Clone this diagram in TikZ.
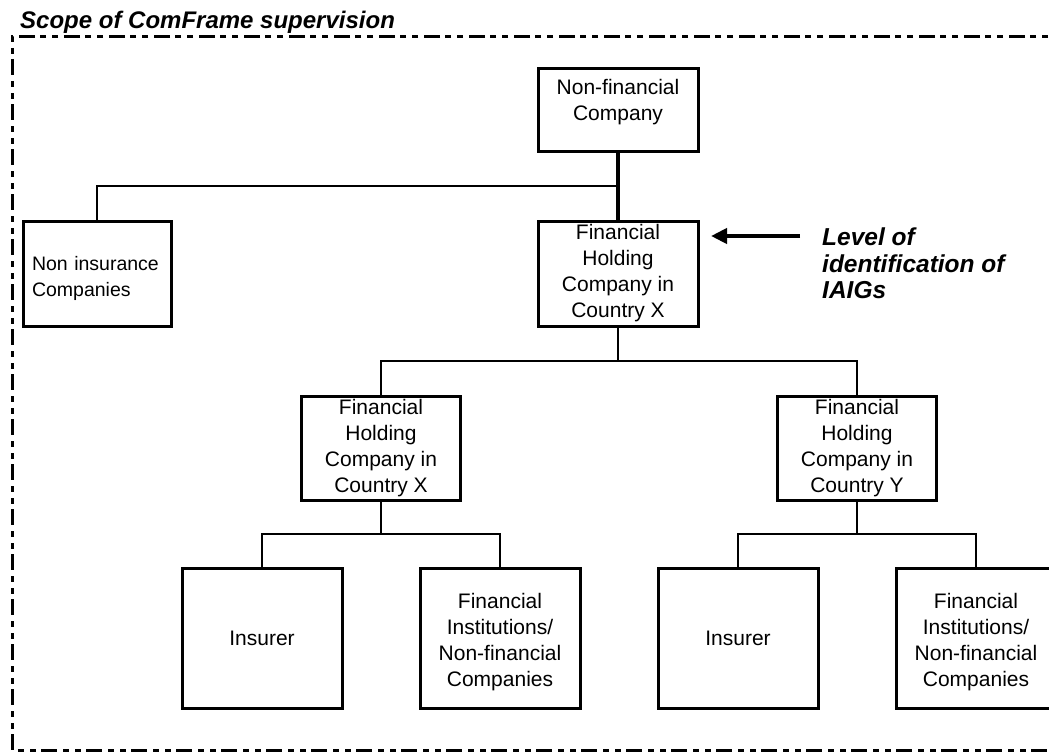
\documentclass[tikz,border=0pt]{standalone}
\usepackage{fontspec}
\setmainfont{Liberation Sans}
\usetikzlibrary{arrows.meta}
\newcommand{\liftstrut}{\rule[-20.5pt]{0pt}{20.5pt}}
\newcommand{\dropstrut}{\rule{0pt}{23.5pt}}
\newcommand{\sidestrut}{\rule{0pt}{24.5pt}}
\begin{document}
\begin{tikzpicture}[x=1pt,y=-1pt,
  orgbox/.style={draw, line width=3pt, inner sep=0pt, align=center,
    font=\fontsize{21}{26}\selectfont},
  topbox/.style={orgbox, minimum width=160pt, minimum height=82pt},
  holdbox/.style={orgbox, minimum width=160pt, minimum height=105pt},
  midbox/.style={orgbox, minimum width=159pt, minimum height=104pt},
  leafbox/.style={orgbox, minimum width=160pt, minimum height=140pt},
  link/.style={line width=2.5pt},
  trunk/.style={line width=3.5pt},
  thinlink/.style={line width=2pt},
  scopeframe/.style={line width=3pt,
    dash pattern=on 16pt off 6pt on 6pt off 6pt on 6pt off 5pt},
  note/.style={font=\fontsize{24.5}{26.5}\selectfont\bfseries\itshape,
    align=left, inner sep=0pt}]
\useasboundingbox (0,0) rectangle (1049,752);
\clip (0,0) rectangle (1049,752);
\fill[white] (0,0) rectangle (1049,752);

% dash-dot-dot frame marking the scope (right side runs off the page)
\draw[scopeframe] (1070,37) -- (12,37) -- (12,750) -- (1070,750);

% title
\node[anchor=base west, inner sep=0pt,
  font=\fontsize{24}{28}\selectfont\bfseries\itshape] (title)
  at (20,29) {Scope of ComFrame supervision};

% boxes
\node[topbox] (nfc) at (618,110) {Non-financial\\Company\liftstrut};
\node[holdbox] (fhx) at (618,273.5) {Financial\\Holding\\Company in\\Country X};
\node[orgbox, minimum height=105pt, text width=130pt, inner xsep=9pt,
  align=left, font=\fontsize{19.5}{26}\selectfont] (nonins) at (97,273.5)
  {\sidestrut Non insurance\\Companies};
\node[midbox] (fhxl) at (381,448) {Financial\\Holding\\Company in\\Country X};
\node[midbox] (fhyr) at (857,448) {Financial\\Holding\\Company in\\Country Y};
\node[leafbox] (insl) at (262,638) {Insurer};
\node[leafbox] (fil) at (500,638)
  {\dropstrut Financial\\Institutions/\\Non-financial\\Companies};
\node[leafbox] (insr) at (738,638) {Insurer};
\node[leafbox] (fir) at (976,638)
  {\dropstrut Financial\\Institutions/\\Non-financial\\Companies};

% junction points of the tree
\coordinate (j1) at (618,186);
\coordinate (j2) at (618,361);
\coordinate (j3) at (381,534);
\coordinate (j4) at (857,534);

% connectors
\draw[trunk] (nfc.south) -- (fhx.north);
\draw[thinlink] (j1) -| (nonins.north);
\draw[link] (fhx.south) -- (j2);
\draw[link] (j2) -| (fhxl.north);
\draw[link] (j2) -| (fhyr.north);
\draw[link] (fhxl.south) -- (j3);
\draw[link] (j3) -| (insl.north);
\draw[link] (j3) -| (fil.north);
\draw[link] (fhyr.south) -- (j4);
\draw[link] (j4) -| (insr.north);
\draw[link] (j4) -| (fir.north);

% pointer to the identification level
\coordinate (ptail) at (800,236);
\coordinate (phead) at (711,236);
\draw[line width=4.5pt, -{Triangle[length=16pt,width=15pt]}] (ptail) -- (phead);
\node[note, anchor=north west] (level) at (822,228)
  {Level of\\identification of\\IAIGs};
\end{tikzpicture}
\end{document}
